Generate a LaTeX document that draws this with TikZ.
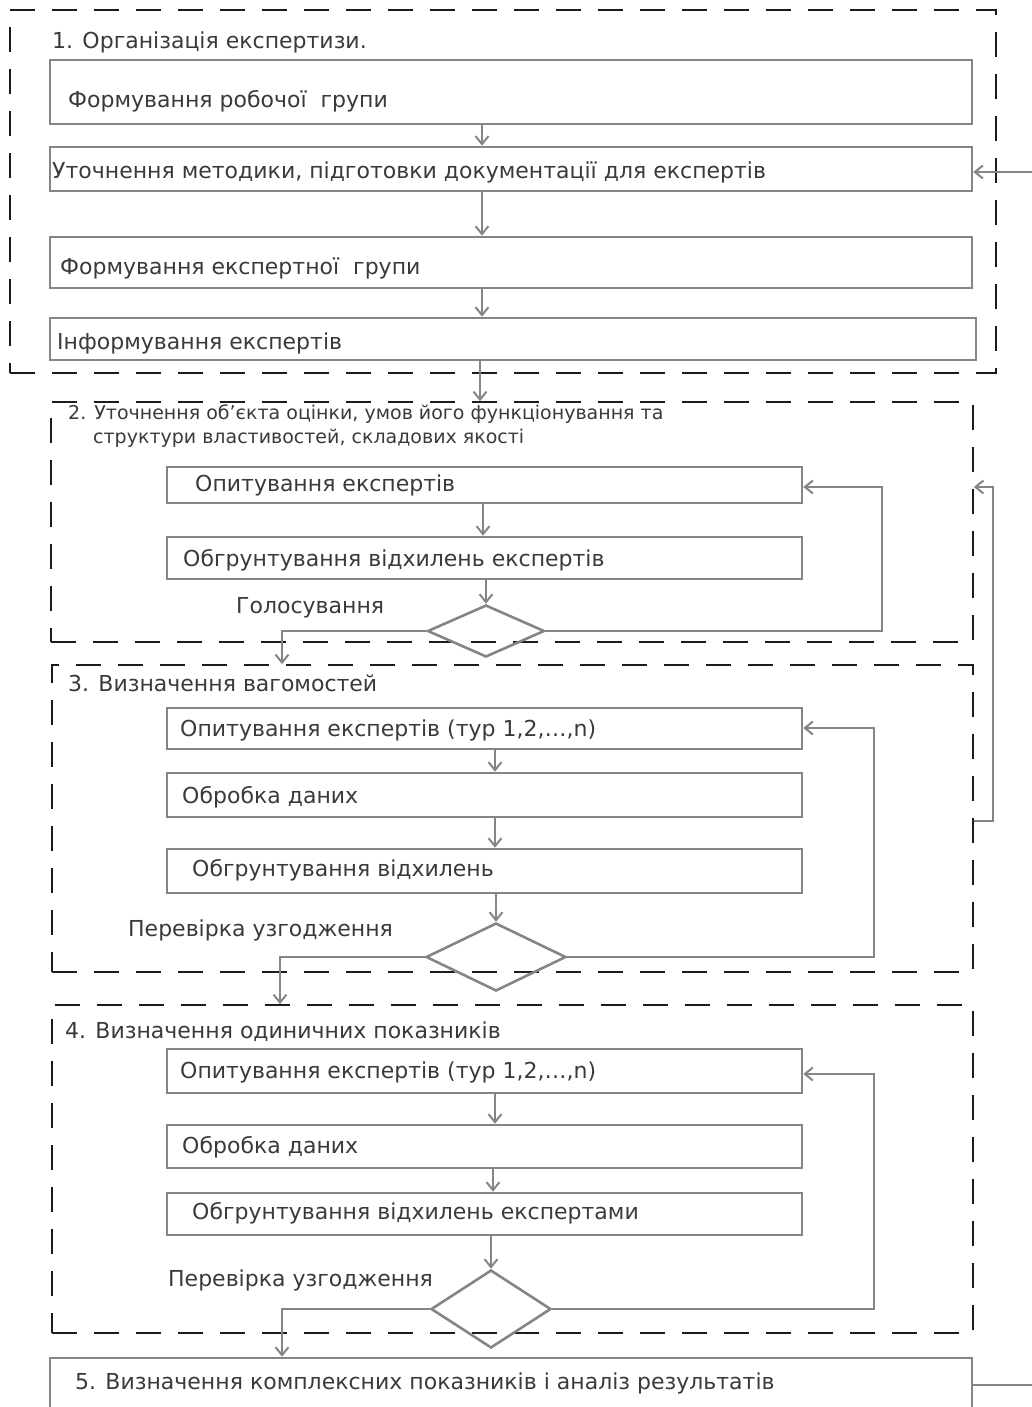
\documentclass[tikz,border=0pt]{standalone}
\usepackage{fontspec}
\setmainfont{DejaVu Sans}
\usetikzlibrary{arrows.meta,shapes.geometric,fit}
\definecolor{boxgray}{HTML}{858585}
\definecolor{txtgray}{HTML}{3A3A3A}
\definecolor{framec}{HTML}{1C1C1C}
\begin{document}
\begin{tikzpicture}[x=1pt,y=-1pt,
  box/.style={draw=boxgray,line width=2.6pt,rectangle,inner sep=0pt},
  frm/.style={draw=framec,line width=1.7pt,dash pattern=on 25pt off 17pt,rectangle,inner sep=0pt},
  dia/.style={draw=boxgray,line width=2.6pt,diamond,inner sep=0pt},
  txt/.style={anchor=west,inner sep=0pt,text=txtgray,font=\fontsize{22}{26}\selectfont},
  ttl/.style={anchor=west,inner sep=0pt,text=txtgray,font=\fontsize{22}{26}\selectfont},
  arr/.style={draw=boxgray,line width=2.6pt,-{Straight Barb[length=8pt,width=13pt,line width=2pt]}},
  ln/.style={draw=boxgray,line width=2.6pt}]
\useasboundingbox (0,0) rectangle (1032,1407);
% frames
\node[frm,fit={(10,10)(996,373)}] (F1) {};
\node[frm,fit={(51,402)(973,642)}] (F2) {};
\node[frm,fit={(52,665)(973,972)}] (F3) {};
\node[frm,fit={(52,1005)(973,1333)}] (F4) {};
% boxes
\node[box,fit={(50,60)(972,124)}] (A) {};
\node[box,fit={(50,147)(972,191)}] (B) {};
\node[box,fit={(50,237)(972,288)}] (C) {};
\node[box,fit={(50,318)(976,360)}] (D) {};
\node[box,fit={(167,467)(802,503)}] (E) {};
\node[box,fit={(167,537)(802,579)}] (F) {};
\node[box,fit={(167,708)(802,749)}] (H) {};
\node[box,fit={(167,773)(802,817)}] (I) {};
\node[box,fit={(167,849)(802,893)}] (J) {};
\node[box,fit={(167,1049)(802,1093)}] (L) {};
\node[box,fit={(167,1125)(802,1168)}] (M) {};
\node[box,fit={(167,1193)(802,1235)}] (N) {};
\node[box,fit={(50,1358)(972,1450)}] (P) {};
% diamonds
\node[dia,minimum width=117pt,minimum height=52pt] (G) at (486,631) {};
\node[dia,minimum width=140pt,minimum height=68pt] (K) at (496,957) {};
\node[dia,minimum width=120pt,minimum height=78pt] (O) at (491,1309) {};
% texts
\node[ttl] (T1) at (52,42) {1. Організація експертизи.};
\node[txt] (tA) at (68,101) {Формування робочої \ групи};
\node[txt] (tB) at (52,172) {Уточнення методики, підготовки документації для експертів};
\node[txt] (tC) at (60,268) {Формування експертної \ групи};
\node[txt] (tD) at (57,343) {Інформування експертів};
\node[ttl,anchor=north west,align=left,font=\fontsize{19}{24}\selectfont] (T2) at (68,405) {2. Уточнення об’єкта оцінки, умов його функціонування та\\\hspace*{25pt}структури властивостей, складових якості};
\node[txt] (tE) at (195,485) {Опитування експертів};
\node[txt] (tF) at (183,560) {Обгрунтування відхилень експертів};
\node[txt] (tG) at (236,608) {Голосування};
\node[ttl] (T3) at (68,683) {3. Визначення вагомостей};
\node[txt] (tH) at (180,730) {Опитування експертів (тур 1,2,…,n)};
\node[txt] (tI) at (182,797) {Обробка даних};
\node[txt] (tJ) at (192,870) {Обгрунтування відхилень};
\node[txt] (tK) at (128,930) {Перевірка узгодження};
\node[ttl] (T4) at (65,1032) {4. Визначення одиничних показників};
\node[txt] (tL) at (180,1072) {Опитування експертів (тур 1,2,…,n)};
\node[txt] (tM) at (182,1147) {Обробка даних};
\node[txt] (tN) at (192,1213) {Обгрунтування відхилень експертами};
\node[txt] (tO) at (168,1280) {Перевірка узгодження};
\node[txt] (tP) at (75,1383) {5. Визначення комплексних показників і аналіз результатів};
% column / row helper coordinates
\coordinate (x480) at (480,0);
\coordinate (x482) at (482,0);
\coordinate (x483) at (483,0);
\coordinate (x493) at (493,0);
\coordinate (x495) at (495,0);
\coordinate (x280) at (280,0);
\coordinate (x282) at (282,0);
\coordinate (x874) at (874,0);
\coordinate (x882) at (882,0);
\coordinate (x993) at (993,0);
\coordinate (x1045) at (1045,0);
\coordinate (y172) at (0,172);
\coordinate (y487) at (0,487);
\coordinate (y728) at (0,728);
\coordinate (y821) at (0,821);
\coordinate (y1074) at (0,1074);
\coordinate (y1385) at (0,1385);
% block 1
\draw[arr] (A.south -| x482) -- (B.north -| x482);
\draw[arr] (B.south -| x482) -- (C.north -| x482);
\draw[arr] (C.south -| x482) -- (D.north -| x482);
\draw[arr] (D.south -| x480) -- (F2.north -| x480);
% block 2
\draw[arr] (E.south -| x483) -- (F.north -| x483);
\draw[arr] (F.south -| G.north) -- (G.north);
\draw[arr] (G.west) -| (F3.north -| x282);
\draw[arr] (G.east) -- (G.east -| x882) -- (x882 |- y487) -- (E.east |- y487);
% block 3
\draw[arr] (H.south -| x495) -- (I.north -| x495);
\draw[arr] (I.south -| x495) -- (J.north -| x495);
\draw[arr] (J.south -| K.north) -- (K.north);
\draw[arr] (K.west) -| (F4.north -| x280);
\draw[arr] (K.east) -- (K.east -| x874) -- (x874 |- y728) -- (H.east |- y728);
\draw[arr] (F3.east |- y821) -- (x993 |- y821) -- (x993 |- y487) -- (F2.east |- y487);
% block 4
\draw[arr] (L.south -| x495) -- (M.north -| x495);
\draw[arr] (M.south -| x493) -- (N.north -| x493);
\draw[arr] (N.south -| O.north) -- (O.north);
\draw[arr] (O.west) -| (P.north -| x282);
\draw[arr] (O.east) -- (O.east -| x874) -- (x874 |- y1074) -- (L.east |- y1074);
% outer feedback
\draw[arr] (P.east |- y1385) -- (x1045 |- y1385) -- (x1045 |- y172) -- (B.east |- y172);
\end{tikzpicture}
\end{document}
